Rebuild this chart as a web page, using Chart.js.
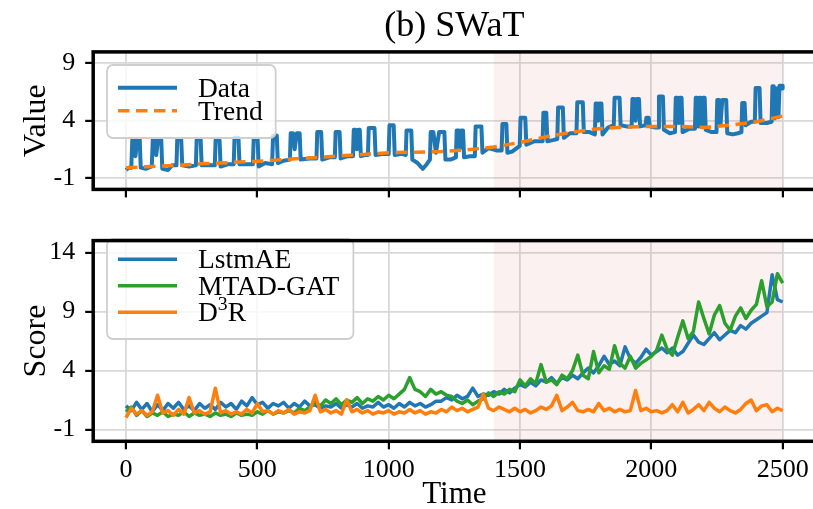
<!DOCTYPE html>
<html>
<head>
<meta charset="utf-8">
<script src="https://cdn.jsdelivr.net/npm/chart.js@4.4.1/dist/chart.umd.min.js"></script>
<style>
  html, body { margin: 0; padding: 0; background: #fff; overflow: hidden; }
  #wrap { position: relative; width: 813px; height: 509px; overflow: hidden; background: #fff; }
  #topPanel { position: absolute; left: 0; top: 0; }
  #bottomPanel { position: absolute; left: 0; top: 215px; }
</style>
</head>
<body>
<div id="wrap">
  <canvas id="topPanel" width="830" height="215"></canvas>
  <canvas id="bottomPanel" width="830" height="300"></canvas>
</div>
<script>
// ---------- data ----------
const CHART_TITLE = '(b) SWaT';
const TIME_TICKS = [0, 500, 1000, 1500, 2000, 2500];
const VALUE_TICKS = [-1, 4, 9];
const SCORE_TICKS = [-1, 4, 9, 14];
const ANOMALY_WINDOW = [1400, 2500];

// raw sensor signal: [time, value] vertices (pulse edges and base level)
const sensorSignal = [
  [0,-0.3],[10,-0.1],[20,-0.1],[24,2.4],[32,2.4],[36,0.9],[42,2.4],[52,2.4],[56,-0.1],[75,-0.2],
  [98,0.0],[102,2.4],[110,2.4],[115,1.0],[122,2.4],[134,2.4],[138,-0.2],[160,-0.3],[175,0.1],
  [192,0.1],[195,2.4],[210,2.4],[214,0.1],[240,0.0],[266,0.1],[269,2.4],[284,2.4],[288,0.1],
  [310,0.1],[338,0.1],[341,2.3],[356,2.3],[360,0.0],[390,0.2],[410,0.2],[413,2.5],[428,2.5],
  [432,0.2],[460,0.2],[483,0.2],[486,2.4],[501,2.4],[505,0.0],[530,0.3],[556,0.2],[560,2.7],
  [574,2.7],[578,0.3],[600,0.5],[624,0.6],[627,2.9],[636,2.9],[642,1.5],[650,2.9],[661,2.9],
  [665,0.6],[700,0.7],[725,0.7],[728,3.0],[743,3.0],[747,0.6],[775,0.8],[795,0.8],[798,3.0],
  [813,3.0],[817,0.7],[845,0.9],[864,0.9],[867,3.2],[874,3.2],[879,1.5],[884,3.2],[890,3.2],
  [894,0.9],[910,1.0],[921,1.0],[924,3.35],[946,3.35],[950,1.0],[980,1.1],[1000,1.1],[1003,3.6],
  [1019,3.6],[1023,1.0],[1050,1.1],[1065,1.0],[1068,3.15],[1086,3.15],[1090,0.6],[1110,0.3],
  [1130,-0.2],[1145,0.2],[1157,0.6],[1160,3.0],[1170,3.0],[1180,1.2],[1192,3.0],[1212,3.0],
  [1216,0.6],[1235,0.6],[1256,0.8],[1259,3.15],[1268,3.15],[1272,1.6],[1276,3.15],[1283,3.15],
  [1287,0.8],[1310,0.9],[1328,0.9],[1331,3.5],[1353,3.5],[1357,1.2],[1380,1.6],[1410,1.4],
  [1430,1.4],[1433,3.7],[1448,3.7],[1452,1.2],[1470,1.3],[1499,1.8],[1502,4.25],[1520,4.25],
  [1524,1.9],[1555,2.2],[1586,2.2],[1589,4.7],[1600,4.7],[1604,2.2],[1625,2.3],[1642,2.4],
  [1645,5.15],[1663,5.15],[1667,2.5],[1690,2.9],[1715,2.9],[1718,5.6],[1739,5.6],[1743,3.0],
  [1765,3.0],[1785,2.8],[1788,5.5],[1794,5.5],[1798,4.0],[1802,5.5],[1810,5.5],[1814,2.8],
  [1835,3.4],[1857,3.6],[1860,6.0],[1879,6.0],[1883,3.6],[1905,3.5],[1925,3.5],[1928,5.9],
  [1935,5.9],[1940,4.0],[1945,5.9],[1953,5.9],[1957,3.5],[1978,3.6],[1981,4.25],[1990,4.25],
  [1994,3.5],[2015,3.4],[2026,3.4],[2029,6.1],[2044,6.1],[2048,3.2],[2070,2.9],[2090,3.0],
  [2093,6.0],[2100,6.0],[2104,3.8],[2108,6.0],[2115,6.0],[2119,3.0],[2145,3.3],[2166,3.3],
  [2169,6.0],[2175,6.0],[2179,3.5],[2183,6.0],[2188,6.0],[2192,3.5],[2196,6.0],[2203,6.0],
  [2207,3.2],[2230,3.0],[2248,3.0],[2251,5.8],[2258,5.8],[2263,3.6],[2270,5.8],[2285,5.8],
  [2289,2.9],[2310,2.8],[2330,2.9],[2343,3.0],[2346,5.55],[2355,5.55],[2359,3.6],[2380,3.9],
  [2394,3.9],[2397,6.85],[2412,6.85],[2416,3.8],[2440,3.8],[2458,3.9],[2461,7.0],[2466,7.0],
  [2470,4.2],[2474,6.8],[2480,6.8],[2484,4.3],[2488,7.05],[2498,7.05],[2500,6.8]
];

// smoothed trend: [time, value]
const sensorTrend = [
  [0,-0.1],[100,0.0],[200,0.1],[300,0.25],[400,0.35],[500,0.45],[600,0.6],[700,0.75],
  [800,0.9],[900,1.05],[1000,1.2],[1100,1.25],[1200,1.3],[1300,1.45],[1400,1.7],[1500,2.1],
  [1600,2.6],[1700,3.0],[1800,3.3],[1900,3.45],[2000,3.5],[2100,3.5],[2200,3.4],[2300,3.6],
  [2400,3.9],[2500,4.4]
];

// anomaly scores, one value every SCORE_STEP time units from 0 to 2500
const SCORE_STEP = 20;
const lstmAE = [
  1.0,0.6,1.3,0.7,1.2,0.5,1.1,0.6,1.2,0.8,
  1.3,0.7,1.0,0.6,1.2,0.8,1.1,0.7,1.3,0.9,
  1.2,0.7,1.4,1.0,1.7,1.1,1.3,0.8,1.2,1.0,
  1.3,0.8,1.2,0.9,1.4,1.0,1.1,0.8,1.0,0.9,
  1.2,0.8,1.1,0.9,1.2,0.8,1.0,0.9,1.3,0.9,
  1.1,0.8,1.2,0.9,1.3,1.0,1.2,0.9,1.1,1.4,
  1.4,1.7,1.5,1.9,1.6,1.8,2.5,1.8,2.0,1.9,
  2.2,2.0,2.4,2.1,2.5,2.8,2.6,3.0,2.7,3.2,
  3.0,3.4,2.9,3.4,3.2,3.6,3.3,3.8,4.2,3.8,
  4.4,5.2,4.5,4.8,4.4,6.0,5.0,4.6,5.1,5.8,
  5.3,5.6,5.9,5.5,5.9,5.3,5.6,6.3,7.0,6.4,
  6.2,6.7,7.2,6.6,7.0,7.4,7.2,7.8,7.5,8.0,
  8.3,8.6,8.9,12.1,10.0,9.8
];
const mtadGat = [
  0.5,0.9,0.2,0.6,0.1,0.4,0.2,0.5,0.1,0.3,
  0.2,0.5,0.1,0.4,0.2,0.3,0.1,0.4,0.2,0.3,
  0.1,0.4,0.2,0.3,0.2,0.5,0.3,0.6,0.3,0.5,
  0.4,0.6,0.4,0.8,0.6,0.9,1.3,1.0,1.5,1.2,
  1.6,1.1,1.5,1.3,1.7,1.2,1.6,1.4,1.8,1.5,
  1.9,1.6,2.0,2.4,3.4,2.4,2.2,1.8,2.4,2.0,
  2.2,1.9,1.8,1.4,1.2,1.5,1.1,1.4,1.6,2.1,
  1.8,2.2,2.0,2.4,2.2,3.2,2.7,3.3,2.9,4.5,
  3.0,3.2,2.8,3.6,3.3,4.0,5.3,3.6,3.3,5.6,
  3.8,4.4,4.1,6.1,4.6,4.2,5.2,4.2,4.6,4.9,
  5.2,5.7,7.0,5.8,5.3,6.8,8.2,6.7,7.3,9.8,
  8.4,7.1,8.7,9.5,8.0,7.4,8.6,9.3,8.4,9.1,
  9.6,11.6,9.4,9.8,12.2,11.4
];
const d3r = [
  0.0,0.8,0.3,0.6,0.2,0.5,1.9,0.4,0.6,0.2,
  0.7,0.3,1.7,0.4,0.6,0.3,0.5,2.5,0.4,0.6,
  0.3,0.5,0.3,0.7,0.4,1.2,0.5,0.6,0.3,0.6,
  0.4,0.7,0.3,0.5,0.4,0.6,1.9,0.5,0.7,0.4,
  0.6,0.3,1.5,0.5,0.7,0.4,0.6,0.3,0.5,0.4,
  0.6,0.3,0.5,0.4,0.7,0.4,0.6,0.3,0.5,0.4,
  0.7,0.5,0.9,0.6,0.8,0.5,0.7,0.9,2.0,0.8,
  0.6,0.9,0.7,0.5,0.8,0.5,0.7,0.4,0.6,0.9,
  0.7,1.0,1.9,0.6,0.9,1.3,0.6,0.5,0.7,0.5,
  1.2,0.6,0.8,0.5,0.7,0.5,0.6,2.3,0.6,0.8,
  0.5,0.6,0.4,0.6,1.1,0.5,1.3,0.4,0.7,1.1,
  0.6,1.3,0.8,0.5,0.9,0.6,0.4,0.7,1.2,1.5,
  0.6,1.0,1.1,0.5,0.8,0.6
];

// ---------- styling ----------
const FONT = "'Liberation Serif', 'Times New Roman', serif";
const BLUE = '#1f77b4', ORANGE = '#ff7f0e', GREEN = '#2ca02c';
const GRID = '#d9d9d9';
const X_MIN = -125, X_MAX = 2625;
const PLOT_LEFT = 93.2, RIGHT_PAD = 14.5;

const toPoints = pairs => pairs.map(([x, y]) => ({ x, y }));
const onScoreGrid = values => values.map((y, i) => ({ x: i * SCORE_STEP, y }));

// shaded anomaly window under the lines, black frame around the plot
const panelDecor = {
  id: 'panelDecor',
  beforeDatasetsDraw(chart) {
    const { ctx, chartArea: a, scales: { x } } = chart;
    const x0 = x.getPixelForValue(ANOMALY_WINDOW[0]);
    const x1 = x.getPixelForValue(ANOMALY_WINDOW[1]);
    ctx.save();
    ctx.fillStyle = 'rgba(222, 95, 95, 0.09)';
    ctx.fillRect(x0, a.top, x1 - x0, a.bottom - a.top);
    ctx.restore();
  },
  afterDraw(chart) {
    const { ctx, chartArea: a } = chart;
    ctx.save();
    ctx.strokeStyle = '#000';
    ctx.lineWidth = 3.5;
    ctx.strokeRect(a.left, a.top, a.right - a.left, a.bottom - a.top);
    ctx.restore();
  }
};

// label text with "³" rendered as a raised small 3
function labelParts(text) {
  return text.split(/(³)/).filter(s => s.length).map(s => s === '³' ? { t: '3', sup: true } : { t: s, sup: false });
}
function measureLabel(ctx, text, size) {
  let w = 0;
  for (const p of labelParts(text)) {
    ctx.font = `${p.sup ? size * 0.72 : size}px ${FONT}`;
    w += ctx.measureText(p.t).width;
  }
  return w;
}
function drawLabel(ctx, text, x, y, size) {
  for (const p of labelParts(text)) {
    const s = p.sup ? size * 0.72 : size;
    ctx.font = `${s}px ${FONT}`;
    ctx.fillText(p.t, x, p.sup ? y - size * 0.42 : y);
    x += ctx.measureText(p.t).width;
  }
}

// legend box placed inside the plot, upper left
const boxLegend = {
  id: 'boxLegend',
  afterDatasetsDraw(chart, args, o) {
    const ctx = chart.ctx;
    const sets = chart.data.datasets;
    ctx.save();
    const widths = sets.map(ds => measureLabel(ctx, ds.label, o.fontSize));
    const w = o.textX + Math.max(...widths) + o.padRight - o.boxX;
    const h = o.firstRow + o.rowGap * (sets.length - 1) + o.padBottom;
    ctx.beginPath();
    ctx.roundRect(o.boxX, o.boxY, w, h, 6);
    ctx.fillStyle = 'rgba(255,255,255,0.8)';
    ctx.fill();
    ctx.strokeStyle = '#cfcfcf';
    ctx.lineWidth = 1.8;
    ctx.stroke();
    sets.forEach((ds, i) => {
      const y = o.boxY + o.firstRow + i * o.rowGap;
      ctx.beginPath();
      ctx.setLineDash(ds.borderDash || []);
      ctx.strokeStyle = ds.borderColor;
      ctx.lineWidth = ds.borderWidth;
      ctx.moveTo(o.sampleX0, y);
      ctx.lineTo(o.sampleX1, y);
      ctx.stroke();
      ctx.setLineDash([]);
      ctx.fillStyle = '#000';
      ctx.textBaseline = 'alphabetic';
      ctx.textAlign = 'left';
      drawLabel(ctx, ds.label, o.textX, y + 0.331 * o.fontSize, o.fontSize);
    });
    ctx.restore();
  }
};

// figure title centred over the plot
const panelTitle = {
  id: 'panelTitle',
  afterDraw(chart, args, o) {
    if (!o.text) return;
    const { ctx, chartArea: a } = chart;
    ctx.save();
    ctx.font = `${o.size}px ${FONT}`;
    ctx.fillStyle = '#000';
    ctx.textAlign = 'center';
    ctx.textBaseline = 'alphabetic';
    ctx.fillText(o.text, (a.left + a.right) / 2, o.baseline);
    ctx.restore();
  }
};

function xAxis(showLabels, height) {
  return {
    type: 'linear', min: X_MIN, max: X_MAX,
    afterBuildTicks: s => { s.ticks = TIME_TICKS.map(v => ({ value: v })); },
    afterFit: s => { s.height = height; },
    grid: { color: GRID, lineWidth: 1.8, drawTicks: true, tickLength: 8, tickColor: '#000', tickWidth: 2.2 },
    border: { display: false },
    ticks: {
      display: showLabels, color: '#000', padding: 5, maxRotation: 0,
      font: { family: FONT, size: 26 },
      callback: v => String(v)
    },
    title: showLabels
      ? { display: true, text: 'Time', color: '#000', font: { family: FONT, size: 31 }, padding: { top: 0, bottom: 2 } }
      : { display: false }
  };
}
function yAxis(min, max, tickValues, label) {
  return {
    type: 'linear', min, max,
    afterBuildTicks: s => { s.ticks = tickValues.map(v => ({ value: v })); },
    afterFit: s => { s.width = PLOT_LEFT; },
    grid: { color: GRID, lineWidth: 1.8, drawTicks: true, tickLength: 8, tickColor: '#000', tickWidth: 2.2 },
    border: { display: false },
    ticks: { color: '#000', padding: 10, font: { family: FONT, size: 26 }, callback: v => String(v) },
    title: { display: true, text: label, color: '#000', font: { family: FONT, size: 32 }, padding: { top: 17, bottom: 0 } }
  };
}

const common = {
  responsive: false,
  animation: false,
  events: [],
  elements: { point: { radius: 0 }, line: { tension: 0, borderJoinStyle: 'round', borderCapStyle: 'butt' } }
};

new Chart(document.getElementById('topPanel'), {
  type: 'line',
  data: {
    datasets: [
      { label: 'Data', data: toPoints(sensorSignal), borderColor: BLUE, borderWidth: 4, order: 1 },
      { label: 'Trend', data: toPoints(sensorTrend), borderColor: ORANGE, borderWidth: 3.5, borderDash: [11.5, 6.5], order: 0 }
    ]
  },
  options: {
    ...common,
    layout: { padding: { top: 51.9, right: RIGHT_PAD, left: 0, bottom: 0 } },
    plugins: {
      legend: { display: false }, tooltip: { enabled: false },
      panelTitle: { text: CHART_TITLE, size: 36, baseline: 36 },
      boxLegend: { boxX: 107, boxY: 65, firstRow: 22.7, rowGap: 23, padBottom: 27.3, padRight: 13,
                   sampleX0: 118, sampleX1: 177, textX: 198, fontSize: 27.5 }
    },
    scales: { x: xAxis(false, 17.6), y: yAxis(-2, 10, VALUE_TICKS, 'Value') }
  },
  plugins: [panelDecor, boxLegend, panelTitle]
});

new Chart(document.getElementById('bottomPanel'), {
  type: 'line',
  data: {
    datasets: [
      { label: 'LstmAE', data: onScoreGrid(lstmAE), borderColor: BLUE, borderWidth: 3.5, order: 2 },
      { label: 'MTAD-GAT', data: onScoreGrid(mtadGat), borderColor: GREEN, borderWidth: 3.5, order: 1 },
      { label: 'D³R', data: onScoreGrid(d3r), borderColor: ORANGE, borderWidth: 3.5, order: 0 }
    ]
  },
  options: {
    ...common,
    layout: { padding: { top: 8.9, right: RIGHT_PAD, left: 0, bottom: 0 } },
    plugins: {
      legend: { display: false }, tooltip: { enabled: false },
      boxLegend: { boxX: 107, boxY: 24, firstRow: 20.3, rowGap: 26.5, padBottom: 26.7, padRight: 14,
                   sampleX0: 118, sampleX1: 177, textX: 198, fontSize: 27.5 }
    },
    scales: { x: xAxis(true, 73.7), y: yAxis(-2, 15, SCORE_TICKS, 'Score') }
  },
  plugins: [panelDecor, boxLegend]
});
</script>
</body>
</html>
